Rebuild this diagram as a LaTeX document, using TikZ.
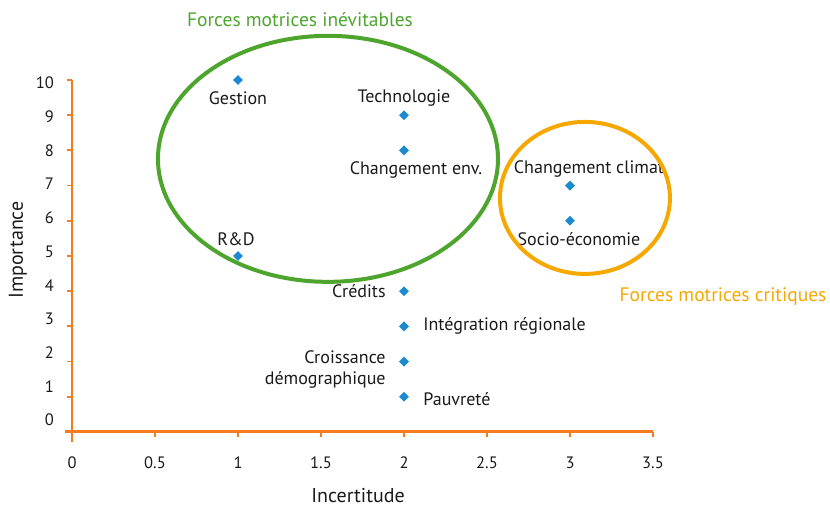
\documentclass[tikz,border=0pt]{standalone}
\usepackage{fontspec}
\setmainfont{PT Sans}
\usetikzlibrary{shapes.geometric,positioning}
\definecolor{axisorange}{HTML}{F47B20}
\definecolor{ptblue}{HTML}{1A8BD0}
\definecolor{incgreen}{HTML}{4DA52E}
\definecolor{critorange}{HTML}{F6A800}
\definecolor{txt}{HTML}{1A1A1A}

\tikzset{
  datapt/.style={diamond, fill=ptblue, inner sep=0pt, minimum size=10pt},
  lbl/.style={text=txt, font=\fontsize{18}{21}\selectfont, inner sep=1pt},
  ticklbl/.style={text=txt, font=\fontsize{16.5}{19}\selectfont, inner sep=0pt},
  axtitle/.style={text=txt, font=\fontsize{20}{24}\selectfont, inner sep=0pt},
}

\begin{document}
\begin{tikzpicture}[x=166pt,y=35.2pt]
\useasboundingbox (-72pt,-76pt) rectangle (758pt,432pt);

% axes
\draw[axisorange, line width=2pt] (0,-10pt) -- (0,10);
\draw[axisorange, line width=3pt] (-7pt,0) -- (3.5,0);
\foreach \v in {1,...,10}
  \draw[axisorange, line width=1.8pt] (-5pt,\v) -- (0,\v);
\foreach \u in {0.5,1,...,3.5}
  \draw[axisorange, line width=1.8pt] (\u,0) -- (\u,-5pt);
\foreach \v in {0,...,10}
  \node[ticklbl, anchor=east] at (-18pt,{12pt+\v*33.7pt}) {\v};
\foreach \u in {0,0.5,1,1.5,2,2.5,3,3.5}
  \node[ticklbl] at (\u,-31pt) {\u};
\node[axtitle] (xtitle) at (286pt,-64pt) {Incertitude};
\node[axtitle, rotate=90] (ytitle) at (-54pt,182pt) {Importance};

% points
\node[datapt] (gestion) at (1,10) {};
\node[datapt] (techno) at (2,9) {};
\node[datapt] (chgenv) at (2,8) {};
\node[datapt] (chgclim) at (3,7) {};
\node[datapt] (socio) at (3,6) {};
\node[datapt] (rnd) at (1,5) {};
\node[datapt] (credits) at (2,4) {};
\node[datapt] (integ) at (2,3) {};
\node[datapt] (croiss) at (2,2) {};
\node[datapt] (pauv) at (2,1) {};

\node[lbl, below=5pt of gestion] {Gestion};
\node[lbl, above=2pt of techno] {Technologie};
\node[lbl, below=5pt of chgenv, xshift=12pt] {Changement env.};
\node[lbl, above=2pt of chgclim, xshift=19pt] {Changement climat};
\node[lbl, below=5pt of socio, xshift=9pt] {Socio-économie};
\node[lbl, above=4pt of rnd, xshift=-2pt] {R\&D};
\node[lbl, left=12pt of credits] {Crédits};
\node[lbl, right=13pt of integ] {Intégration régionale};
\node[lbl, align=right, anchor=north east] at ([xshift=-12pt,yshift=12pt]croiss.west) {Croissance\\démographique};
\node[lbl, right=13pt of pauv, yshift=-2pt] {Pauvreté};

% groups
\draw[incgreen, line width=4pt] (1.542,7.76) ellipse [x radius=170pt, y radius=123pt];
\draw[critorange, line width=4pt] (3.09,6.65) ellipse [x radius=85pt, y radius=76pt];
\node[text=incgreen, font=\fontsize{19.5}{23}\selectfont] (inev) at (228pt,412pt) {Forces motrices inévitables};
\node[text=critorange, font=\fontsize{19.5}{23}\selectfont] (crit) at (651pt,135pt) {Forces motrices critiques};
\end{tikzpicture}
\end{document}
